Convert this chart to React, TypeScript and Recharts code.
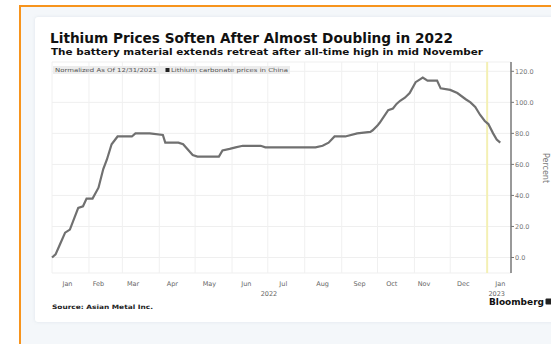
import { LineChart, Line, XAxis, YAxis, CartesianGrid, ReferenceLine } from "recharts";

// days since 12/31/2021
const DAYS = [
  0, 3, 7, 11, 15, 22, 26, 29, 34, 39, 43, 46, 50, 55, 67, 70, 82, 93, 95, 106, 110, 118, 122,
  140, 143, 149, 154, 160, 175, 179, 221, 227, 232, 237, 246, 256, 267, 269, 273, 275, 282, 286,
  289, 292, 296, 300, 305, 309, 311, 315, 323, 326, 334, 340, 347, 351, 355, 359, 363, 366, 370,
  373, 376,
];
// lithium carbonate price, % change vs 12/31/2021
const VALUES = [
  0, 2, 9, 16, 18, 32, 33, 38, 38, 45, 57, 63, 73, 78, 78, 80, 80, 79, 74, 74, 73, 66, 65,
  65, 69, 70, 71, 72, 72, 71, 71, 72, 74, 78, 78, 80, 81, 82, 85, 87, 95, 96, 99, 101, 103,
  106, 113, 115, 116, 114, 114, 109, 108, 106, 102, 100, 97, 92, 88, 86, 80, 76, 74,
];

const MONTH_LABELS = ["Jan", "Feb", "Mar", "Apr", "May", "Jun", "Jul", "Aug", "Sep", "Oct", "Nov", "Dec", "Jan"];
const MONTH_LABEL_DAYS = [13, 39, 68, 101, 132, 163, 194, 227, 258, 285, 312, 345, 376];
const MONTH_START_DAYS = [0, 31, 59, 90, 120, 151, 181, 212, 243, 273, 304, 334];
const YEAR_LABELS = ["2022", "2023"];
const YEAR_LABEL_DAYS = [182, 373];
const Y_TICKS = [0, 20, 40, 60, 80, 100, 120];
const YEAR_END_DAY = 365;

const data = DAYS.map((d, i) => ({ day: d, value: VALUES[i] }));

const MonthTick = (props: any) => {
  const { x, y, payload } = props;
  return (
    <text x={x} y={y + 10.5} textAnchor="middle" fontSize={6.5} fill="#666" fontFamily="DejaVu Sans">
      {MONTH_LABELS[payload.index]}
    </text>
  );
};

const YearTick = (props: any) => {
  const { x, y, payload } = props;
  return (
    <text x={x} y={y + 5} textAnchor="middle" fontSize={6.5} fill="#666" fontFamily="DejaVu Sans">
      {YEAR_LABELS[payload.index]}
    </text>
  );
};

export default function App() {
  return (
    <div style={{ position: "absolute", left: 0, top: 0, width: 551, height: 344, background: "#fff", overflow: "hidden" }}>
      {/* orange frame + pale page */}
      <div
        style={{
          position: "absolute",
          left: 19,
          top: 5,
          width: 540,
          height: 350,
          background: "#f4f7fa",
          borderLeft: "2.5px solid #f7941d",
          borderTop: "2.5px solid #f7941d",
        }}
      />
      {/* white card */}
      <div
        style={{
          position: "absolute",
          left: 35,
          top: 17,
          width: 530,
          height: 305,
          background: "#fff",
          borderRadius: 3,
          boxShadow: "0 0 3px rgba(200,210,220,0.5)",
        }}
      />

      <div style={{ position: "absolute", left: 0, top: 0 }}>
        <LineChart width={551} height={344} data={data} margin={{ top: 62, right: 0, bottom: 43, left: 52 }}>
          <CartesianGrid vertical={false} stroke="#efefef" strokeWidth={1} />
          {MONTH_START_DAYS.map((d) => (
            <ReferenceLine key={d} x={d} stroke="#f0f0f0" strokeWidth={1} />
          ))}
          <ReferenceLine x={YEAR_END_DAY} stroke="#f4f0b4" strokeWidth={2} />
          <XAxis
            dataKey="day"
            type="number"
            domain={[0, 385]}
            ticks={MONTH_LABEL_DAYS}
            interval={0}
            axisLine={false}
            tickLine={false}
            tickSize={0}
            height={16}
            tick={<MonthTick />}
          />
          <XAxis
            xAxisId="year"
            dataKey="day"
            type="number"
            domain={[0, 385]}
            ticks={YEAR_LABEL_DAYS}
            interval={0}
            axisLine={false}
            tickLine={false}
            tickSize={0}
            height={12}
            tick={<YearTick />}
          />
          <YAxis
            orientation="right"
            type="number"
            domain={[-10, 126]}
            ticks={Y_TICKS}
            interval={0}
            width={40}
            axisLine={{ stroke: "#777", strokeWidth: 1.5 }}
            tickLine={{ stroke: "#777" }}
            tickSize={3}
            tickMargin={1}
            tick={{ fontSize: 6.5, fill: "#777", fontFamily: "DejaVu Sans" }}
            tickFormatter={(v: number) => v.toFixed(1)}
          />
          <Line
            type="linear"
            dataKey="value"
            stroke="#707070"
            strokeWidth={2.2}
            dot={false}
            isAnimationActive={false}
          />
        </LineChart>
      </div>

      {/* titles, legend, footer */}
      <svg width={551} height={344} style={{ position: "absolute", left: 0, top: 0, pointerEvents: "none" }}>
        <text x={50} y={43} fontSize={13.5} fontWeight="bold" fill="#111" fontFamily="DejaVu Sans" textLength={403} lengthAdjust="spacingAndGlyphs">
          Lithium Prices Soften After Almost Doubling in 2022
        </text>
        <text x={51} y={55} fontSize={8.5} fontWeight="bold" fill="#111" fontFamily="DejaVu Sans" textLength={432} lengthAdjust="spacingAndGlyphs">
          The battery material extends retreat after all-time high in mid November
        </text>
        <rect x={53} y={66} width={237} height={8} fill="#ececec" />
        <text x={55} y={72.3} fontSize={5.5} fill="#555" fontFamily="DejaVu Sans" textLength={102} lengthAdjust="spacingAndGlyphs">
          Normalized As Of 12/31/2021
        </text>
        <rect x={165.5} y={68} width={4} height={4} fill="#222" />
        <text x={171} y={72.3} fontSize={5.5} fill="#555" fontFamily="DejaVu Sans" textLength={117} lengthAdjust="spacingAndGlyphs">
          Lithium carbonate prices in China
        </text>
        <text x={545} y={168} transform="rotate(90 545 168)" textAnchor="middle" dominantBaseline="middle" fontSize={8} fill="#777" fontFamily="DejaVu Sans">
          Percent
        </text>
        <text x={52} y={309} fontSize={6} fontWeight="bold" fill="#222" fontFamily="DejaVu Sans" textLength={101} lengthAdjust="spacingAndGlyphs">
          Source: Asian Metal Inc.
        </text>
        <text x={489} y={305} fontSize={8} fontWeight="bold" fill="#111" fontFamily="DejaVu Sans" textLength={55} lengthAdjust="spacingAndGlyphs">
          Bloomberg
        </text>
        <rect x={545.5} y={298.5} width={6} height={6} rx={1} fill="#222" />
      </svg>
    </div>
  );
}
